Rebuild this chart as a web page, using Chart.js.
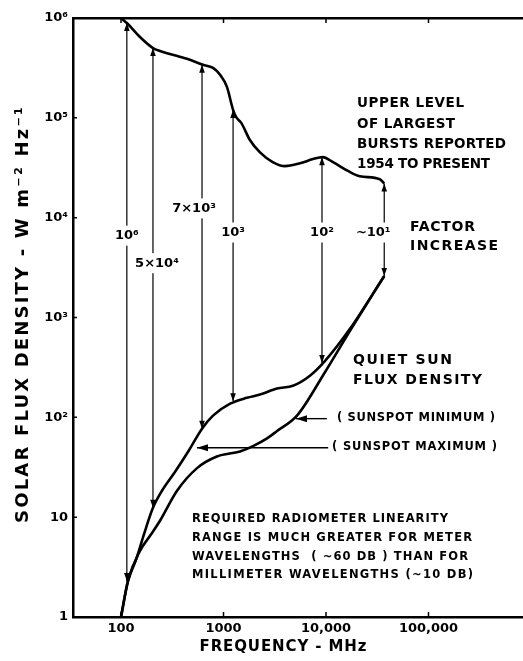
<!DOCTYPE html>
<html lang="en">
<head>
  <meta charset="UTF-8" />
  <title>Solar flux density vs frequency</title>
  <script src="https://cdn.jsdelivr.net/npm/chart.js"></script>
  <style>
    html, body { margin: 0; padding: 0; background: #fff; }
  </style>
</head>
<body>
<canvas id="fluxChart" width="523" height="661"></canvas>
<script>
  // upper level of largest bursts reported, 1954 to present
  const burstFreq = [100, 114, 153, 205, 240, 300, 440, 631, 790, 925, 1080, 1240, 1325, 1490, 1810, 2270, 3020, 3970, 5580, 7470, 9300, 11700, 16000, 21400, 33500, 37000];
  const burstFlux = [1e6, 8.9e5, 6.45e5, 5.0e5, 4.67e5, 4.36e5, 3.9e5, 3.4e5, 3.16e5, 2.7e5, 2.04e5, 1.2e5, 1.02e5, 8.9e4, 6.0e4, 4.5e4, 3.6e4, 3.28e4, 3.5e4, 3.86e4, 4.04e4, 3.6e4, 2.98e4, 2.6e4, 2.43e4, 2.2e4];

  // quiet sun, sunspot maximum
  const maxFreq = [100, 117, 140, 168, 205, 251, 337, 451, 617, 790, 1160, 1690, 2270, 3330, 4760, 6970, 9650, 17200, 37000];
  const maxFlux = [1, 2.3, 3.73, 6.8, 12.4, 18.4, 28.5, 45.2, 77, 104, 137, 157, 169, 194, 207, 261, 361, 774, 2600];

  // quiet sun, sunspot minimum
  const minFreq = [100, 117, 153, 192, 240, 352, 552, 862, 1450, 1940, 2660, 3330, 5210, 9700, 17200, 37000];
  const minFlux = [1, 2.3, 4.6, 6.5, 9.2, 18.4, 31, 40.5, 45.5, 51.5, 61.5, 73, 104, 280, 740, 2600];

  // factor increase arrows
  const arrowFreq = [114, 205, 617, 1240, 9140, 37000];
  const arrowTop = [8.9e5, 5.0e5, 3.4e5, 1.2e5, 4.03e4, 2.2e4];
  const arrowBottom = [2.3, 12.4, 77, 145, 350, 2600];
  const arrowLabels = ['10⁶', '5×10⁴', '7×10³', '10³', '10²', '~10¹'];
  const arrowLabelFlux = [6600, 3500, 12400, 7100, 7100, 7100];

  // pointers to the quiet sun curves (tail, tip)
  const minPointerFreq = [10200, 5100];
  const minPointerFlux = [97, 97];
  const maxPointerFreq = [10500, 551];
  const maxPointerFlux = [49.5, 49.5];

  const xTickValues = [100, 1000, 10000, 100000];
  const xTickLabels = ['100', '1000', '10,000', '100,000'];
  const yTickValues = [1, 10, 100, 1e3, 1e4, 1e5, 1e6];
  const yTickLabels = ['1', '10', '10²', '10³', '10⁴', '10⁵', '10⁶'];

  const FONT = 'DejaVu Sans';
  const pts = (f, v) => f.map((x, i) => ({ x: x, y: v[i] }));

  const datasets = [];
  arrowFreq.forEach((f, i) => {
    datasets.push({ data: pts([f, f], [arrowTop[i], arrowBottom[i]]), borderColor: '#000', borderWidth: 1.2, pointRadius: 0, clip: false });
  });
  datasets.push({ data: pts(minPointerFreq, minPointerFlux), borderColor: '#000', borderWidth: 1.4, pointRadius: 0 });
  datasets.push({ data: pts(maxPointerFreq, maxPointerFlux), borderColor: '#000', borderWidth: 1.4, pointRadius: 0 });
  [[burstFreq, burstFlux], [maxFreq, maxFlux], [minFreq, minFlux]].forEach(c => {
    datasets.push({ data: pts(c[0], c[1]), borderColor: '#000', borderWidth: 2.6, pointRadius: 0,
      cubicInterpolationMode: 'monotone', clip: false });
  });

  // draw text spread to a given width
  function spaced(ctx, text, x, y, width, size, align) {
    ctx.font = 'bold ' + size + 'px "' + FONT + '"';
    ctx.letterSpacing = '0px';
    const w0 = ctx.measureText(text).width;
    const gap = (width - w0) / Math.max(text.length - 1, 1);
    ctx.letterSpacing = gap + 'px';
    ctx.textAlign = 'left';
    ctx.textBaseline = 'middle';
    const start = align === 'center' ? x - width / 2 : x;
    ctx.fillText(text, start, y);
    ctx.letterSpacing = '0px';
  }

  const annotate = {
    id: 'annotate',
    afterDatasetsDraw(chart) {
      const { ctx, chartArea } = chart;
      const x = chart.scales.x, y = chart.scales.y;
      ctx.save();
      ctx.fillStyle = '#000';
      ctx.strokeStyle = '#000';

      // inward tick marks
      ctx.lineWidth = 1.5;
      ctx.beginPath();
      xTickValues.forEach(v => {
        const px = x.getPixelForValue(v);
        ctx.moveTo(px, chartArea.bottom); ctx.lineTo(px, chartArea.bottom - 5);
        ctx.moveTo(px, chartArea.top); ctx.lineTo(px, chartArea.top + 5);
      });
      yTickValues.forEach(v => {
        const py = y.getPixelForValue(v);
        ctx.moveTo(chartArea.left, py); ctx.lineTo(chartArea.left + 4, py);
      });
      ctx.stroke();

      // arrowheads on the factor arrows
      const head = (px, py, dir) => {
        ctx.beginPath();
        ctx.moveTo(px, py);
        ctx.lineTo(px - 2.8, py - dir * 8);
        ctx.lineTo(px + 2.8, py - dir * 8);
        ctx.closePath();
        ctx.fill();
      };
      arrowFreq.forEach((f, i) => {
        const px = x.getPixelForValue(f);
        head(px, y.getPixelForValue(arrowTop[i]), -1);
        head(px, y.getPixelForValue(arrowBottom[i]), 1);
      });

      // pointer heads (pointing left)
      [[minPointerFreq, minPointerFlux], [maxPointerFreq, maxPointerFlux]].forEach(p => {
        const tx = x.getPixelForValue(p[0][1]), ty = y.getPixelForValue(p[1][1]);
        ctx.beginPath();
        ctx.moveTo(tx, ty);
        ctx.lineTo(tx + 11, ty - 3.5);
        ctx.lineTo(tx + 11, ty + 3.5);
        ctx.closePath();
        ctx.fill();
      });

      // factor labels, breaking the arrow lines
      const dx = [0, 4, -8, 0, 0, -11];
      ctx.font = 'bold 13px "' + FONT + '"';
      ctx.textBaseline = 'middle';
      arrowLabels.forEach((t, i) => {
        const w = ctx.measureText(t).width;
        const px = x.getPixelForValue(arrowFreq[i]) + dx[i];
        const py = y.getPixelForValue(arrowLabelFlux[i]);
        ctx.fillStyle = '#fff';
        ctx.fillRect(px - w / 2 - 2, py - 10, w + 4, 20);
        ctx.fillStyle = '#000';
        ctx.textAlign = 'center';
        ctx.fillText(t, px, py);
      });

      // text blocks
      spaced(ctx, 'UPPER LEVEL', 357, 103, 107, 13.5);
      spaced(ctx, 'OF LARGEST', 357, 124, 98, 13.5);
      spaced(ctx, 'BURSTS REPORTED', 357, 144, 149, 13.5);
      spaced(ctx, '1954 TO PRESENT', 357, 164, 133, 13.5);
      spaced(ctx, 'FACTOR', 410, 227, 65, 14);
      spaced(ctx, 'INCREASE', 410, 246, 88, 14);
      spaced(ctx, 'QUIET SUN', 353, 360, 99, 14);
      spaced(ctx, 'FLUX DENSITY', 353, 380, 129, 14);
      spaced(ctx, '( SUNSPOT MINIMUM )', 337, 418, 158, 11.5);
      spaced(ctx, '( SUNSPOT MAXIMUM )', 332, 447, 165, 11.5);
      spaced(ctx, 'REQUIRED RADIOMETER LINEARITY', 192, 519, 256, 11.5);
      spaced(ctx, 'RANGE IS MUCH GREATER FOR METER', 192, 538, 280, 11.5);
      spaced(ctx, 'WAVELENGTHS  ( ~60 DB ) THAN FOR', 192, 557, 276, 11.5);
      spaced(ctx, 'MILLIMETER WAVELENGTHS (~10 DB)', 192, 575, 281, 11.5);

      // axis titles
      spaced(ctx, 'FREQUENCY - MHz', 283, 647, 167, 15, 'center');
      ctx.save();
      ctx.translate(23, 315);
      ctx.rotate(-Math.PI / 2);
      spaced(ctx, 'SOLAR FLUX DENSITY - W m⁻² Hz⁻¹', 0, 0, 416, 18, 'center');
      ctx.restore();

      ctx.restore();
    }
  };

  const tickFont = { family: FONT, weight: 'bold', size: 13 };

  new Chart(document.getElementById('fluxChart'), {
    type: 'line',
    data: { datasets: datasets },
    options: {
      responsive: false,
      animation: false,
      events: [],
      layout: { padding: { top: 18, right: 0, left: 0, bottom: 0 } },
      plugins: { legend: { display: false }, tooltip: { enabled: false } },
      scales: {
        x: {
          type: 'logarithmic', position: 'bottom', min: 34, max: 836000,
          afterBuildTicks: s => { s.ticks = xTickValues.map(v => ({ value: v })); },
          afterFit: s => { s.height = 44; },
          grid: { display: false, drawTicks: false },
          border: { display: true, color: '#000', width: 2.5 },
          ticks: { callback: (v, i) => xTickLabels[i], font: tickFont, color: '#000', padding: 4, maxRotation: 0, autoSkip: false }
        },
        x2: {
          type: 'logarithmic', position: 'top', min: 34, max: 836000,
          afterFit: s => { s.height = 0; },
          grid: { display: false, drawTicks: false },
          border: { display: true, color: '#000', width: 2.5 },
          ticks: { display: false }
        },
        y: {
          type: 'logarithmic', position: 'left', min: 1, max: 1e6,
          afterBuildTicks: s => { s.ticks = yTickValues.map(v => ({ value: v })); },
          afterFit: s => { s.width = 73; },
          grid: { display: false, drawTicks: false },
          border: { display: true, color: '#000', width: 2.5 },
          ticks: { callback: (v, i) => yTickLabels[i], font: tickFont, color: '#000', padding: 5, autoSkip: false }
        }
      }
    },
    plugins: [annotate]
  });
</script>
</body>
</html>
